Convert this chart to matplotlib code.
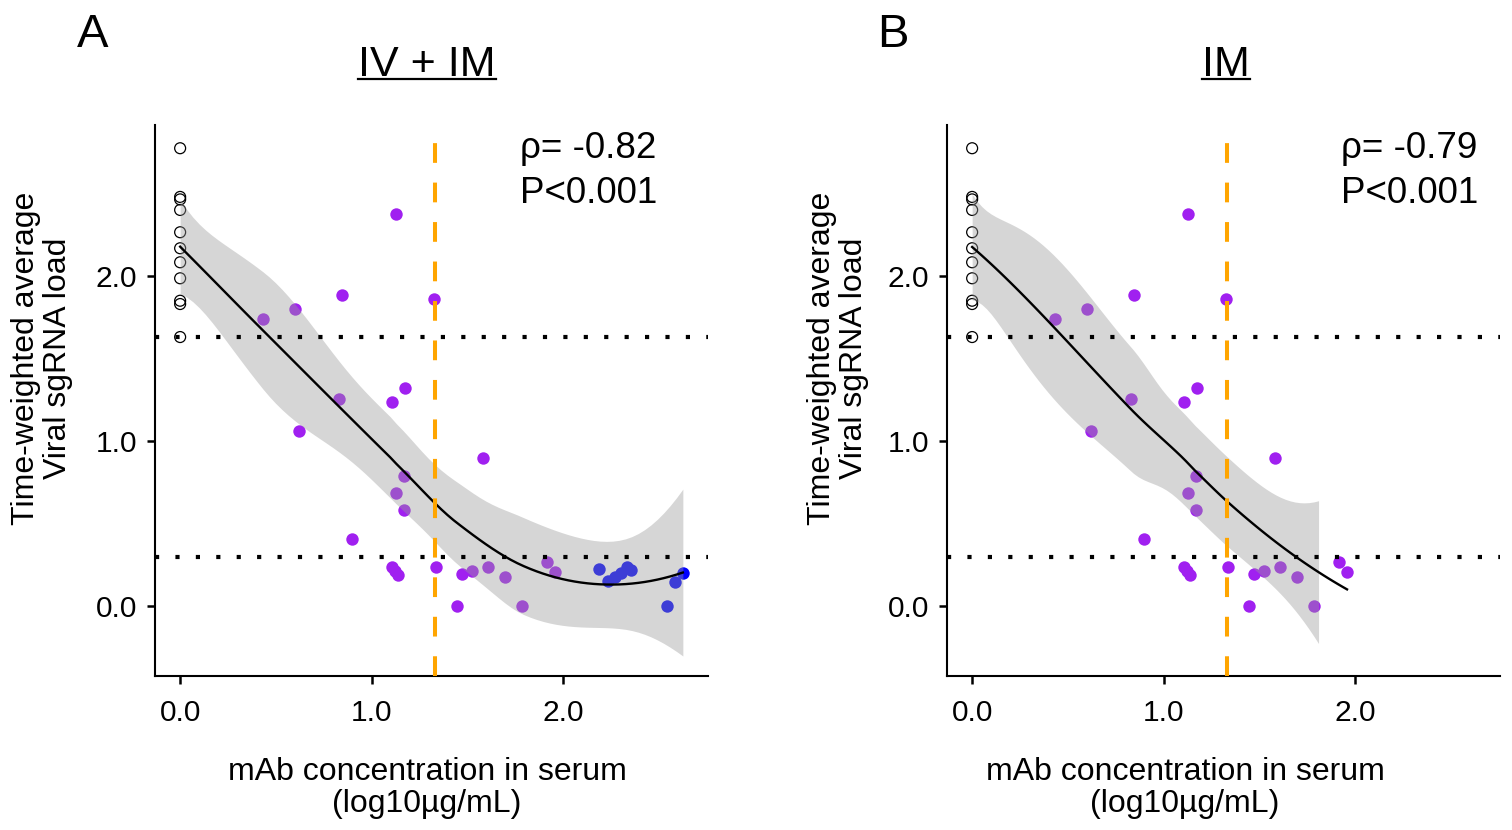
import numpy as np
import matplotlib.pyplot as plt
from matplotlib.lines import Line2D

plt.rcParams['font.family'] = ['Liberation Sans', 'DejaVu Sans']

# open circles: animals without mAb (x = 0)
ctrl_y = [2.774, 2.479, 2.464, 2.40, 2.265, 2.168, 2.083, 1.986, 1.850, 1.830, 1.630]

# IM group (purple)
im_x = [1.128, 0.431, 0.599, 0.847, 1.328, 0.828, 1.109, 1.177, 0.619, 1.585,
        1.168, 1.127, 1.168, 0.898, 1.107, 1.124, 1.138, 1.337, 1.475, 1.527,
        1.607, 1.698, 1.446, 1.787, 1.918, 1.959]
im_y = [2.374, 1.738, 1.798, 1.883, 1.859, 1.253, 1.236, 1.323, 1.063, 0.899,
        0.788, 0.687, 0.580, 0.408, 0.236, 0.212, 0.188, 0.234, 0.194, 0.214,
        0.236, 0.176, 0.0, 0.0, 0.267, 0.206]

# IV group (blue)
iv_x = [2.187, 2.236, 2.274, 2.306, 2.335, 2.358, 2.587, 2.627, 2.546]
iv_y = [0.224, 0.153, 0.174, 0.198, 0.238, 0.218, 0.147, 0.198, 0.0]

lod_lines = [1.63, 0.30]
cut_x = 1.333
y_limits = (-0.272, 2.763)

stats = {'A': ('\u03c1= -0.82', 'P<0.001'), 'B': ('\u03c1= -0.79', 'P<0.001')}
titles = {'A': 'IV + IM', 'B': 'IM'}


def t_quantile(df, z=1.959964):
    # Cornish-Fisher expansion of the Student t 97.5% quantile
    return (z + (z**3 + z) / (4 * df) + (5 * z**5 + 16 * z**3 + 3 * z) / (96 * df**2)
            + (3 * z**7 + 19 * z**5 + 17 * z**3 - 15 * z) / (384 * df**3))


def kd_vertices(x, fc):
    """1-d version of the loess kd-tree: cell boundaries used for interpolation."""
    xs = np.sort(x)
    margin = 0.005 * (xs[-1] - xs[0])
    verts = {xs[0] - margin, xs[-1] + margin}

    def split(pts, a, b):
        if len(pts) <= fc:
            return
        m = (len(pts) - 1) // 2
        v = pts[m]
        if v <= a or v >= b or np.all(pts == v):
            return
        verts.add(v)
        split(pts[pts <= v], a, v)
        split(pts[pts > v], v, b)

    split(xs, xs[0] - margin, xs[-1] + margin)
    return np.array(sorted(verts))


def loess_fit(x, y, x_new, span=0.75):
    """Local quadratic regression (R loess style, interpolated surface) with 95% band."""
    x = np.asarray(x, float)
    y = np.asarray(y, float)
    n = len(x)
    q = int(np.floor(n * span))

    def op_rows(x0):
        d = np.abs(x - x0)
        h = np.sort(d)[q - 1]
        w = np.clip(1 - (d / h) ** 3, 0, None) ** 3
        X = np.column_stack([np.ones(n), x - x0, (x - x0) ** 2])
        XtW = X.T * w
        sol = np.linalg.solve(XtW @ X, XtW)
        return sol[0], sol[1]

    verts = kd_vertices(x, int(np.floor(n * span * 0.2)))
    vals = [op_rows(v) for v in verts]
    V0 = np.array([r[0] for r in vals])
    V1 = np.array([r[1] for r in vals])

    def interp_rows(pts):
        out = []
        for p in pts:
            i = np.clip(np.searchsorted(verts, p) - 1, 0, len(verts) - 2)
            a, b = verts[i], verts[i + 1]
            hh = b - a
            t = (p - a) / hh
            h00 = 2 * t**3 - 3 * t**2 + 1
            h10 = t**3 - 2 * t**2 + t
            h01 = -2 * t**3 + 3 * t**2
            h11 = t**3 - t**2
            out.append(h00 * V0[i] + h10 * hh * V1[i] + h01 * V0[i + 1] + h11 * hh * V1[i + 1])
        return np.array(out)

    L = interp_rows(x)
    resid = y - L @ y
    I_L = np.eye(n) - L
    M = I_L.T @ I_L
    d1 = np.trace(M)
    d2 = np.trace(M @ M)
    sigma = np.sqrt(resid @ resid / d1)
    df = d1 ** 2 / d2
    Ln = interp_rows(x_new)
    fit = Ln @ y
    se = sigma * np.sqrt((Ln ** 2).sum(1))
    t = t_quantile(df)
    return fit, fit - t * se, fit + t * se


fig = plt.figure(figsize=(15.12, 8.30), dpi=100)
W, H = 1512, 830

ax_a = fig.add_axes([155 / W, 1 - 676 / H, 553 / W, 551 / H])
ax_b = fig.add_axes([947 / W, 1 - 676 / H, 553 / W, 551 / H])

xmax_all = max(iv_x + im_x)
xr = xmax_all - 0.0
yr = y_limits[1] - y_limits[0]

# (axes, panel key, include IV group, drop band outside y limits)
panels = [
    (ax_a, 'A', True, False),
    (ax_b, 'B', False, True),
]

for ax, key, with_iv, clip_band in panels:
    xs = [0.0] * len(ctrl_y) + im_x + (iv_x if with_iv else [])
    ys = ctrl_y + im_y + (iv_y if with_iv else [])
    grid = np.linspace(min(xs), max(xs), 80)
    fit, lo, hi = loess_fit(xs, ys, grid)
    if clip_band:
        ok = (lo >= y_limits[0]) & (hi <= y_limits[1])
    else:
        ok = np.ones_like(fit, dtype=bool)

    ax.scatter([0.0] * len(ctrl_y), ctrl_y, s=62, facecolors='none',
               edgecolors='black', linewidths=0.9, zorder=2)
    ax.scatter(im_x, im_y, s=80, color='#A020F0', linewidths=0, zorder=2)
    if with_iv:
        ax.scatter(iv_x, iv_y, s=80, color='#0000FF', linewidths=0, zorder=2)

    ax.fill_between(grid, lo, hi, where=ok, color='#999999', alpha=0.4,
                    linewidth=0, zorder=3)
    ax.plot(grid, fit, color='black', lw=1.7, zorder=4)

    for yl in lod_lines:
        ax.axhline(yl, color='black', lw=3.0, dashes=(1, 3.9),
                   dash_capstyle='butt', zorder=5)
    ax.axvline(cut_x, color='#FFA500', lw=2.9, dashes=(4.9, 4.9), zorder=5)

    ax.set_xlim(-0.05 * xr, xmax_all + 0.05 * xr)
    ax.set_ylim(y_limits[0] - 0.05 * yr, y_limits[1] + 0.05 * yr)
    ax.set_xticks([0, 1, 2])
    ax.set_xticklabels(['0.0', '1.0', '2.0'])
    ax.set_yticks([0, 1, 2])
    ax.set_yticklabels(['0.0', '1.0', '2.0'])
    for s in ['top', 'right']:
        ax.spines[s].set_visible(False)
    for s in ['left', 'bottom']:
        ax.spines[s].set_linewidth(1.5)
    ax.tick_params(direction='out', length=5.8, width=1.8, labelsize=21.5,
                   colors='black')
    ax.tick_params(axis='x', pad=11)
    ax.tick_params(axis='y', pad=7)

# text positions in pixels
layout = {
    'A': dict(letter=77, title=427, rho=520, ylab=42, xlab=427),
    'B': dict(letter=877, title=1226, rho=1341, ylab=838, xlab=1185),
}

title_texts = []
for key, pos in layout.items():
    fig.text(pos['letter'] / W, 1 - 47 / H, key, fontsize=34, va='baseline', ha='left')
    t = fig.text(pos['title'] / W, 1 - 76 / H, titles[key], fontsize=31,
                 va='baseline', ha='center')
    title_texts.append(t)
    fig.text(pos['rho'] / W, 1 - 158 / H, stats[key][0], fontsize=26.5,
             va='baseline', ha='left')
    fig.text(pos['rho'] / W, 1 - 203 / H, stats[key][1], fontsize=26.5,
             va='baseline', ha='left')
    fig.text(pos['ylab'] / W, 1 - 358 / H, 'Time-weighted average\nViral sgRNA load',
             fontsize=23, rotation=90, ha='center', va='center', linespacing=1.12)
    fig.text(pos['xlab'] / W, 1 - 788 / H, 'mAb concentration in serum\n(log10\u00b5g/mL)',
             fontsize=23, ha='center', va='center', linespacing=1.12)

# underline the panel titles
fig.canvas.draw()
renderer = fig.canvas.get_renderer()
for t in title_texts:
    bb = t.get_window_extent(renderer).transformed(fig.transFigure.inverted())
    y_line = 1 - 79 / H
    fig.add_artist(Line2D([bb.x0, bb.x1], [y_line, y_line], color='black', lw=1.6,
                          transform=fig.transFigure))

fig.savefig('out.png', dpi=100)
